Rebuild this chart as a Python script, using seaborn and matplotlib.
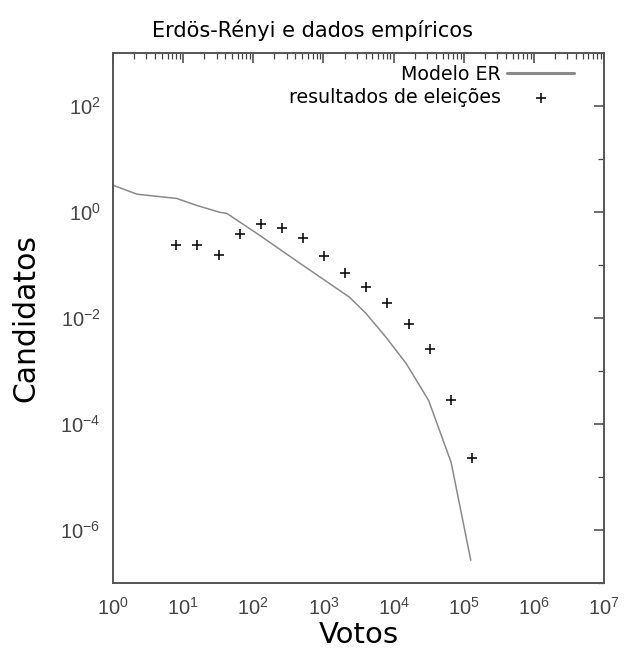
import matplotlib
matplotlib.use("Agg")
import matplotlib.pyplot as plt
import matplotlib.ticker as mticker
import seaborn as sns
import pandas as pd
import numpy as np

# ---- data ----
model_votes = [1, 2.2, 8.1, 15.5, 33, 42, 112, 457, 2340, 3980, 7760, 15100, 31600, 66100, 126000]
model_cands = [3.24, 2.19, 1.82, 1.35, 1.0, 0.95, 0.40, 0.11, 0.025, 0.0126, 0.0044, 0.0014, 0.00028, 1.9e-5, 2.7e-7]

emp_votes = [8, 16, 32, 64, 128, 256, 512, 1024, 2048, 4096, 8192, 16384, 32768, 65536, 131072]
emp_cands = [0.24, 0.24, 0.155, 0.38, 0.59, 0.50, 0.32, 0.148, 0.071, 0.038, 0.019, 0.0079, 0.0026, 0.00028, 0.000023]

y_major_exps = [-6, -4, -2, 0, 2]
y_minor_exps = [-7, -5, -3, -1, 1, 3]

title = "Erdös-Rényi e dados empíricos"
xlabel = "Votos"
ylabel = "Candidatos"
label_model = "Modelo ER"
label_emp = "resultados de eleições"

sns.set_theme(style="white")
plt.rcParams['font.family'] = ['DejaVu Sans']
plt.rcParams['axes.unicode_minus'] = False

fig = plt.figure(figsize=(6.24, 6.5), dpi=100)
ax = fig.add_axes([0.181, 0.103, 0.787, 0.815])

df_m = pd.DataFrame({"x": model_votes, "y": model_cands})
df_e = pd.DataFrame({"x": emp_votes, "y": emp_cands})

sns.lineplot(data=df_m, x="x", y="y", ax=ax, color="#8a8a8a", linewidth=1.1,
             label=label_model, estimator=None, sort=False)
sns.scatterplot(data=df_e, x="x", y="y", ax=ax, marker="+", s=55, color="#111111",
                linewidth=1.2, label=label_emp)

ax.set_xscale("log")
ax.set_yscale("log")
ax.set_xlim(1, 1e7)
ax.set_ylim(1e-7, 1e3)

# ticks
ax.xaxis.set_major_locator(mticker.LogLocator(base=10, numticks=20))
ax.xaxis.set_minor_locator(mticker.LogLocator(base=10, subs=np.arange(2, 10), numticks=100))
ax.xaxis.set_major_formatter(mticker.LogFormatterSciNotation())
ax.xaxis.set_minor_formatter(mticker.NullFormatter())

ax.yaxis.set_major_locator(mticker.FixedLocator([10.0 ** e for e in y_major_exps]))
ax.yaxis.set_minor_locator(mticker.FixedLocator([10.0 ** e for e in y_minor_exps]))
ax.yaxis.set_major_formatter(mticker.FixedFormatter([r"$\mathdefault{10^{%d}}$" % e for e in y_major_exps]))
ax.yaxis.set_minor_formatter(mticker.NullFormatter())

ax.tick_params(which="both", direction="in", top=True, right=True, colors="#444444")
ax.tick_params(which="major", length=7, width=1.1)
ax.tick_params(which="minor", length=4, width=0.9)
for lab in ax.get_xticklabels() + ax.get_yticklabels():
    lab.set_fontfamily("Liberation Sans")
    lab.set_fontsize(14.5)
    lab.set_color("#444444")
ax.tick_params(axis="x", pad=10)
ax.tick_params(axis="y", pad=9)

for sp in ax.spines.values():
    sp.set_color("#555555")
    sp.set_linewidth(1.4)

ax.set_xlabel(xlabel, fontsize=21, color="black", va="center")
ax.set_ylabel(ylabel, fontsize=21.5, color="black", va="center")
ax.xaxis.set_label_coords(0.5, -0.098)
ax.yaxis.set_label_coords(-0.1765, 0.5)
fig.text(0.5, 0.953, title, ha="center", va="center", fontsize=15, color="black")

leg = ax.legend(loc="upper right", bbox_to_anchor=(0.962, 1.0), markerfirst=False,
                frameon=False, fontsize=13.7, handlelength=3.5, handletextpad=0.35,
                labelspacing=0.25, borderaxespad=0.2)
for t in leg.get_texts():
    t.set_color("black")
hl = leg.legend_handles
hl[0].set_linewidth(2.2)

fig.savefig("out.png", dpi=100, facecolor="white")
